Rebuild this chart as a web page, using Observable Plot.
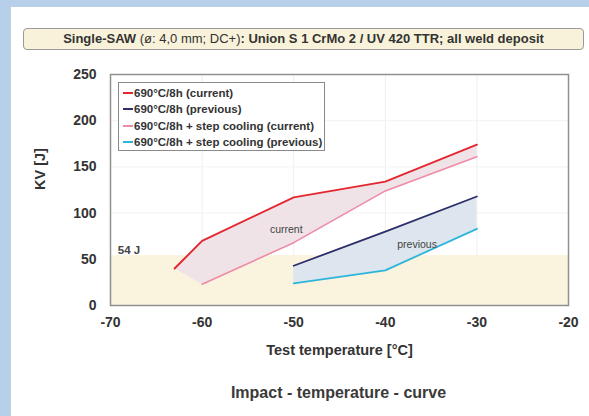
<!DOCTYPE html>
<html>
<head>
<meta charset="utf-8">
<script src="https://cdn.jsdelivr.net/npm/d3@7"></script>
<script src="https://cdn.jsdelivr.net/npm/@observablehq/plot@0.6"></script>
<style>
  html, body { margin: 0; padding: 0; }
  body { width: 589px; height: 416px; background: #b8cfe9; position: relative; overflow: hidden;
         font-family: "Liberation Sans", Arial, sans-serif; color: #333; }
  #panel { position: absolute; left: 11px; top: 7px; width: 578px; height: 409px; background: #fff; }
  #titlebox { position: absolute; left: 23px; top: 28px; width: 559px; height: 20px; background: #f8f2da;
              border: 1px solid #9a9a9a; border-radius: 4px; box-sizing: content-box;
              font-size: 13px; line-height: 20px; text-align: center; color: #333; white-space: nowrap; }
  #titlebox b { font-weight: bold; }
  #chart { position: absolute; left: 10px; top: 55px; }
  #legend { position: absolute; left: 118px; top: 82px; width: 207px; height: 69px; background: #fff;
            border: 1px solid #8a8a8a; font-size: 11.5px; font-weight: bold; color: #333; box-sizing: border-box;
            padding: 2px 0 0 4px; }
  #legend div { height: 16.3px; line-height: 16.3px; white-space: nowrap; }
  #legend span.sw { display: inline-block; width: 10px; height: 2px; vertical-align: middle; margin-right: 1px; position: relative; top: -1px; }
  #caption { position: absolute; left: 10px; top: 384px; width: 657px; text-align: center; font-size: 16px; font-weight: bold; color: #3a3a3a; }
</style>
</head>
<body>
<div id="panel"></div>
<div id="titlebox"><b>Single-SAW</b> (ø: 4,0 mm; DC+)<b>: Union S 1 CrMo 2 / UV 420 TTR; all weld deposit</b></div>
<div id="chart"></div>
<div id="legend"></div>
<div id="caption">Impact - temperature - curve</div>
<script>
// ---- data ----
const seriesNames = ["690°C/8h (current)", "690°C/8h (previous)", "690°C/8h + step cooling (current)", "690°C/8h + step cooling (previous)"];
const seriesColors = ["#e4262f", "#2e2f68", "#ee8ba6", "#2cb5dc"];

const redT = [-63, -60, -50, -40, -30];
const redKV = [40, 70, 117, 134, 174];
const pinkT = [-60, -50, -40, -30];
const pinkKV = [23, 68, 124, 161];
const navyT = [-50, -40, -30];
const navyKV = [43, 80, 118];
const cyanT = [-50, -40, -30];
const cyanKV = [24, 38, 83];

const xTicks = [-70, -60, -50, -40, -30, -20];
const yTicks = [0, 50, 100, 150, 200, 250];
const limitJ = [54];
const bandLabels = [{t: -69.2, kv: 60, label: "54 J"}];
const zoneLabels = [
  {t: -52.6, kv: 82, label: "current"},
  {t: -38.7, kv: 66, label: "previous"}
];

// ---- build tables ----
const pts = (T, V) => T.map((t, i) => ({t, kv: V[i]}));
const red = pts(redT, redKV), pink = pts(pinkT, pinkKV), navy = pts(navyT, navyKV), cyan = pts(cyanT, cyanKV);
const currentPoly = red.concat(pink.slice().reverse());
const prevBand = navyT.map((t, i) => ({t, hi: navyKV[i], lo: cyanKV[i]}));

const chart = Plot.plot({
  width: 579,
  height: 310,
  marginLeft: 100,
  marginRight: 21,
  marginTop: 19,
  marginBottom: 60,
  style: {fontFamily: "'Liberation Sans', Arial, sans-serif", fontSize: "14px", color: "#333", background: "transparent"},
  x: {domain: [-70, -20]},
  y: {domain: [0, 250]},
  marks: [
    Plot.gridX(xTicks, {stroke: "#eeeeee", strokeOpacity: 1}),
    Plot.gridY(yTicks, {stroke: "#f2f2f2", strokeOpacity: 1}),
    Plot.rect(limitJ, {x1: xTicks[0], x2: xTicks[xTicks.length - 1], y1: 0, y2: d => d, fill: "#faf3dd"}),
    Plot.line(currentPoly, {x: "t", y: "kv", fill: "#efe3e8", stroke: "none"}),
    Plot.areaY(prevBand, {x: "t", y1: "lo", y2: "hi", fill: "#dde5ee"}),
    Plot.line(pink, {x: "t", y: "kv", stroke: seriesColors[2], strokeWidth: 1.6}),
    Plot.line(cyan, {x: "t", y: "kv", stroke: seriesColors[3], strokeWidth: 1.8}),
    Plot.line(navy, {x: "t", y: "kv", stroke: seriesColors[1], strokeWidth: 1.8}),
    Plot.line(red, {x: "t", y: "kv", stroke: seriesColors[0], strokeWidth: 1.9}),
    Plot.text(zoneLabels, {x: "t", y: "kv", text: "label", fontSize: 10.5, fill: "#444", textAnchor: "start"}),
    Plot.text(bandLabels, {x: "t", y: "kv", text: "label", fontSize: 11.5, fontWeight: "bold", fill: "#444", textAnchor: "start"}),
    Plot.frame({stroke: "#8f8f8f", strokeWidth: 1.5}),
    Plot.axisX({ticks: xTicks, tickFormat: d => String(d), tickSize: 0, tickPadding: 12, fontWeight: "bold", fontSize: 14, label: null}),
    Plot.axisY({ticks: yTicks, tickFormat: d => String(d), tickSize: 0, tickPadding: 14, fontWeight: "bold", fontSize: 14, label: null}),
    Plot.text(["Test temperature [°C]"], {frameAnchor: "bottom", dy: 49, text: d => d, fontWeight: "bold", fontSize: 14.5, fill: "#333"}),
    Plot.text(["KV [J]"], {frameAnchor: "left", dx: -70, rotate: -90, text: d => d, fontWeight: "bold", fontSize: 14.5, fill: "#333"})
  ]
});
document.getElementById("chart").appendChild(chart);

// legend
const lg = document.getElementById("legend");
seriesNames.forEach((n, i) => {
  const row = document.createElement("div");
  const sw = document.createElement("span");
  sw.className = "sw";
  sw.style.background = seriesColors[i];
  row.appendChild(sw);
  row.appendChild(document.createTextNode(n));
  lg.appendChild(row);
});
</script>
</body>
</html>
